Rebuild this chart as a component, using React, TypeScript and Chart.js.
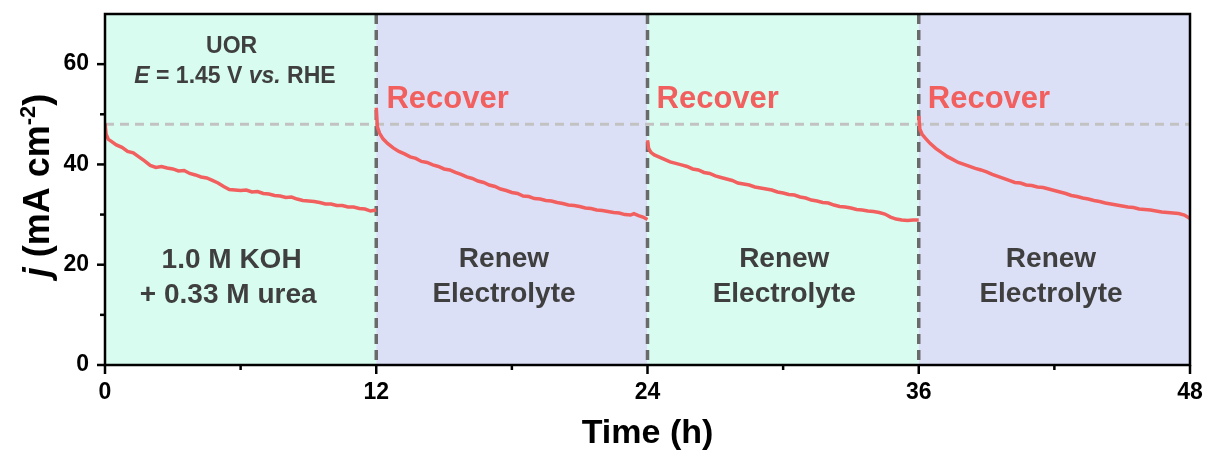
import React, { useEffect, useRef } from "react";
import { Chart, registerables } from "chart.js";

Chart.register(...registerables);

// Chronoamperometry at 1.45 V vs. RHE, electrolyte renewed every 12 h
const TIME_1 = [0, 0.05, 0.15, 0.25, 0.5, 0.75, 1.0, 1.25, 1.5, 1.75, 2.0, 2.25, 2.5, 2.75, 3.0, 3.25, 3.5, 3.75, 4.0, 4.25, 4.5, 4.75, 5.0, 5.25, 5.5, 5.75, 6.0, 6.25, 6.5, 6.75, 7.0, 7.25, 7.5, 7.75, 8.0, 8.25, 8.5, 8.75, 9.0, 9.25, 9.5, 9.75, 10.0, 10.25, 10.5, 10.75, 11.0, 11.25, 11.5, 11.75, 12.0];
const CURRENT_1 = [48.2, 46.0, 45.0, 44.7, 43.9, 43.4, 42.6, 42.3, 41.5, 40.7, 39.8, 39.4, 39.6, 39.3, 39.1, 38.7, 38.8, 38.2, 37.9, 37.5, 37.3, 36.8, 36.3, 35.6, 35.0, 34.9, 34.8, 34.9, 34.5, 34.6, 34.2, 34.1, 33.8, 33.7, 33.4, 33.5, 33.1, 32.8, 32.7, 32.6, 32.4, 32.1, 32.1, 31.8, 31.8, 31.5, 31.5, 31.2, 31.1, 30.7, 30.9];

const TIME_2 = [12.0, 12.05, 12.15, 12.3, 12.5, 12.75, 13.0, 13.25, 13.5, 13.75, 14.0, 14.25, 14.5, 14.75, 15.0, 15.25, 15.5, 15.75, 16.0, 16.25, 16.5, 16.75, 17.0, 17.25, 17.5, 17.75, 18.0, 18.25, 18.5, 18.75, 19.0, 19.25, 19.5, 19.75, 20.0, 20.25, 20.5, 20.75, 21.0, 21.25, 21.5, 21.75, 22.0, 22.25, 22.5, 22.75, 23.0, 23.25, 23.4, 23.6, 23.8, 24.0];
const CURRENT_2 = [51.3, 47.5, 46.2, 45.1, 44.2, 43.3, 42.6, 42.1, 41.5, 41.2, 40.6, 40.4, 39.9, 39.6, 39.1, 38.9, 38.4, 38.0, 37.5, 37.2, 36.7, 36.4, 35.9, 35.6, 35.1, 34.8, 34.4, 34.2, 33.7, 33.6, 33.2, 33.1, 32.8, 32.7, 32.4, 32.2, 31.9, 31.8, 31.6, 31.3, 31.2, 30.9, 30.8, 30.6, 30.4, 30.3, 30.0, 29.9, 30.2, 29.8, 29.5, 29.0];

const TIME_3 = [24.0, 24.05, 24.15, 24.3, 24.5, 24.75, 25.0, 25.25, 25.5, 25.75, 26.0, 26.25, 26.5, 26.75, 27.0, 27.25, 27.5, 27.75, 28.0, 28.25, 28.5, 28.75, 29.0, 29.25, 29.5, 29.75, 30.0, 30.25, 30.5, 30.75, 31.0, 31.25, 31.5, 31.75, 32.0, 32.25, 32.5, 32.75, 33.0, 33.25, 33.5, 33.75, 34.0, 34.25, 34.5, 34.75, 35.0, 35.25, 35.5, 35.75, 36.0];
const CURRENT_3 = [44.8, 43.2, 42.4, 41.9, 41.5, 41.0, 40.5, 40.2, 39.9, 39.6, 39.1, 38.9, 38.4, 38.2, 37.7, 37.4, 37.1, 36.8, 36.3, 36.1, 35.9, 35.5, 35.3, 35.1, 34.9, 34.5, 34.3, 34.0, 33.9, 33.5, 33.3, 32.9, 32.7, 32.4, 32.3, 31.9, 31.6, 31.5, 31.3, 31.0, 30.9, 30.7, 30.6, 30.4, 30.1, 29.5, 29.1, 28.9, 28.8, 28.9, 28.9];

const TIME_4 = [36.0, 36.05, 36.15, 36.3, 36.5, 36.75, 37.0, 37.25, 37.5, 37.75, 38.0, 38.25, 38.5, 38.75, 39.0, 39.25, 39.5, 39.75, 40.0, 40.25, 40.5, 40.75, 41.0, 41.25, 41.5, 41.75, 42.0, 42.25, 42.5, 42.75, 43.0, 43.25, 43.5, 43.75, 44.0, 44.25, 44.5, 44.75, 45.0, 45.25, 45.5, 45.75, 46.0, 46.25, 46.5, 46.75, 47.0, 47.25, 47.5, 47.75, 48.0];
const CURRENT_4 = [49.7, 47.0, 46.0, 45.2, 44.2, 43.2, 42.4, 41.6, 41.0, 40.4, 40.0, 39.6, 39.2, 38.9, 38.5, 38.0, 37.6, 37.2, 36.8, 36.4, 36.3, 35.9, 35.8, 35.5, 35.4, 35.1, 34.8, 34.5, 34.2, 33.8, 33.6, 33.3, 33.1, 32.8, 32.6, 32.3, 32.1, 31.9, 31.7, 31.5, 31.4, 31.1, 31.0, 30.9, 30.7, 30.5, 30.4, 30.3, 30.2, 29.9, 29.2];

// Electrolyte periods (h) and the initial current reference level (mA cm-2)
const PERIOD_BOUNDS = [0, 12, 24, 36, 48];
const RENEW_TIMES = [12, 24, 36];
const INITIAL_LEVEL = 48;

const X_TICKS = [0, 12, 24, 36, 48];
const X_MINOR = [6, 18, 30, 42];
const Y_TICKS = [0, 20, 40, 60];
const Y_MINOR = [10, 30, 50];

const RECOVER_LABEL = "Recover";
const RENEW_LABEL = ["Renew", "Electrolyte"];
const FIRST_LABEL = ["1.0 M KOH", "+ 0.33 M urea"];

const FONT = '"Liberation Sans", Arial, Helvetica, sans-serif';
const RED = "#f25f5f";
const TEXT_GRAY = "#3f3f3f";
const GREEN_BG = "#d8fcef";
const BLUE_BG = "#dce0f7";

type Part = { t: string; italic?: boolean; size?: number; rise?: number };

function drawParts(ctx: CanvasRenderingContext2D, parts: Part[], cx: number, baseline: number, size: number, color: string) {
  const widths = parts.map((p) => {
    ctx.font = `${p.italic ? "italic " : ""}bold ${p.size ?? size}px ${FONT}`;
    return ctx.measureText(p.t).width;
  });
  const total = widths.reduce((a, b) => a + b, 0);
  let x = cx - total / 2;
  ctx.fillStyle = color;
  ctx.textAlign = "left";
  ctx.textBaseline = "alphabetic";
  parts.forEach((p, i) => {
    ctx.font = `${p.italic ? "italic " : ""}bold ${p.size ?? size}px ${FONT}`;
    ctx.fillText(p.t, x, baseline - (p.rise ?? 0));
    x += widths[i];
  });
}

const decorPlugin = {
  id: "decor",
  beforeDatasetsDraw(chart: any) {
    const { ctx, chartArea: a, scales } = chart;
    const xs = scales.x;
    const ys = scales.y;
    ctx.save();
    for (let i = 0; i < PERIOD_BOUNDS.length - 1; i++) {
      const x0 = xs.getPixelForValue(PERIOD_BOUNDS[i]);
      const x1 = xs.getPixelForValue(PERIOD_BOUNDS[i + 1]);
      ctx.fillStyle = i % 2 === 0 ? GREEN_BG : BLUE_BG;
      ctx.fillRect(x0, a.top, x1 - x0, a.bottom - a.top);
    }
    // initial current level
    const yl = ys.getPixelForValue(INITIAL_LEVEL);
    ctx.strokeStyle = "#c2c2c2";
    ctx.lineWidth = 3;
    ctx.setLineDash([9, 6]);
    ctx.beginPath();
    ctx.moveTo(a.left, yl);
    ctx.lineTo(a.right, yl);
    ctx.stroke();
    // electrolyte renewal markers
    ctx.strokeStyle = "#6a6a6a";
    ctx.lineWidth = 3.5;
    ctx.setLineDash([10, 6]);
    RENEW_TIMES.forEach((t) => {
      const x = xs.getPixelForValue(t);
      ctx.beginPath();
      ctx.moveTo(x, a.top);
      ctx.lineTo(x, a.bottom);
      ctx.stroke();
    });
    ctx.restore();
  },
  afterDatasetsDraw(chart: any) {
    const { ctx, chartArea: a, scales } = chart;
    const xs = scales.x;
    const ys = scales.y;
    ctx.save();
    // frame
    ctx.strokeStyle = "#000";
    ctx.lineWidth = 2.5;
    ctx.setLineDash([]);
    ctx.strokeRect(a.left, a.top, a.right - a.left, a.bottom - a.top);
    // tick marks
    const tickX = (v: number, len: number) => {
      const x = xs.getPixelForValue(v);
      ctx.beginPath();
      ctx.moveTo(x, a.bottom);
      ctx.lineTo(x, a.bottom + len);
      ctx.stroke();
    };
    const tickY = (v: number, len: number) => {
      const y = ys.getPixelForValue(v);
      ctx.beginPath();
      ctx.moveTo(a.left, y);
      ctx.lineTo(a.left - len, y);
      ctx.stroke();
    };
    X_TICKS.forEach((v) => tickX(v, 9));
    X_MINOR.forEach((v) => tickX(v, 5));
    Y_TICKS.forEach((v) => tickY(v, 8));
    Y_MINOR.forEach((v) => tickY(v, 5));

    const px = (v: number) => xs.getPixelForValue(v);
    const py = (v: number) => ys.getPixelForValue(v);

    // first period conditions
    drawParts(ctx, [{ t: "UOR" }], px(5.6), py(62.2), 23, TEXT_GRAY);
    drawParts(
      ctx,
      [{ t: "E", italic: true }, { t: " = 1.45 V " }, { t: "vs.", italic: true }, { t: " RHE" }],
      px(5.75),
      py(56.2),
      23,
      TEXT_GRAY
    );
    drawParts(ctx, [{ t: FIRST_LABEL[0] }], px(5.6), py(19.3), 28, TEXT_GRAY);
    drawParts(ctx, [{ t: FIRST_LABEL[1] }], px(5.45), py(12.4), 28, TEXT_GRAY);

    // renewed periods
    [17.65, 30.05, 41.85].forEach((c) => {
      drawParts(ctx, [{ t: RENEW_LABEL[0] }], px(c), py(19.5), 28, TEXT_GRAY);
      drawParts(ctx, [{ t: RENEW_LABEL[1] }], px(c), py(12.6), 28, TEXT_GRAY);
    });

    // recovery labels
    ctx.fillStyle = RED;
    ctx.font = `bold 31px ${FONT}`;
    ctx.textAlign = "left";
    ctx.textBaseline = "alphabetic";
    [12.45, 24.4, 36.4].forEach((t) => {
      ctx.fillText(RECOVER_LABEL, px(t), py(51.25));
    });

    // axis titles
    drawParts(ctx, [{ t: "Time (h)" }], (a.left + a.right) / 2, 443, 34, "#000");
    ctx.translate(49, (a.top + a.bottom) / 2 - 4);
    ctx.rotate(-Math.PI / 2);
    drawParts(
      ctx,
      [{ t: "j", italic: true }, { t: " (mA cm" }, { t: "-2", size: 22, rise: 14 }, { t: ")" }],
      0,
      0,
      36,
      "#000"
    );
    ctx.restore();
  },
};

function seg(times: number[], vals: number[]) {
  return times.map((t, i) => ({ x: t, y: vals[i] }));
}

export default function App() {
  const ref = useRef<HTMLCanvasElement | null>(null);

  useEffect(() => {
    if (!ref.current) return;
    const segments = [
      seg(TIME_1, CURRENT_1),
      seg(TIME_2, CURRENT_2),
      seg(TIME_3, CURRENT_3),
      seg(TIME_4, CURRENT_4),
    ];
    const tickFont = { family: FONT, size: 23, weight: "bold" as const };
    const chart = new Chart(ref.current, {
      type: "line",
      data: {
        datasets: segments.map((d, i) => ({
          label: `Period ${i + 1}`,
          data: d,
          borderColor: RED,
          borderWidth: 3.5,
          pointRadius: 0,
          tension: 0,
          fill: false,
        })),
      },
      options: {
        animation: false,
        responsive: true,
        maintainAspectRatio: false,
        layout: { padding: { top: 14, right: 15, left: 0, bottom: 0 } },
        plugins: { legend: { display: false }, tooltip: { enabled: false } },
        scales: {
          x: {
            type: "linear",
            min: 0,
            max: 48,
            grid: { display: false, drawTicks: false },
            border: { display: false },
            afterBuildTicks: (s: any) => {
              s.ticks = X_TICKS.map((v) => ({ value: v }));
            },
            ticks: {
              padding: 14,
              color: "#000",
              font: tickFont,
              maxRotation: 0,
            },
            afterFit: (s: any) => {
              s.height = 85;
              s.paddingLeft = 0;
              s.paddingRight = 0;
            },
          },
          y: {
            min: 0,
            max: 70,
            grid: { display: false, drawTicks: false },
            border: { display: false },
            afterBuildTicks: (s: any) => {
              s.ticks = Y_TICKS.map((v) => ({ value: v }));
            },
            ticks: {
              padding: 16,
              color: "#000",
              font: tickFont,
            },
            afterFit: (s: any) => {
              s.width = 105;
              s.paddingTop = 0;
              s.paddingBottom = 0;
            },
          },
        },
      },
      plugins: [decorPlugin],
    });
    return () => chart.destroy();
  }, []);

  return (
    <div style={{ position: "fixed", left: 0, top: 0, width: 1205, height: 450, background: "#fff" }}>
      <canvas ref={ref} />
    </div>
  );
}
